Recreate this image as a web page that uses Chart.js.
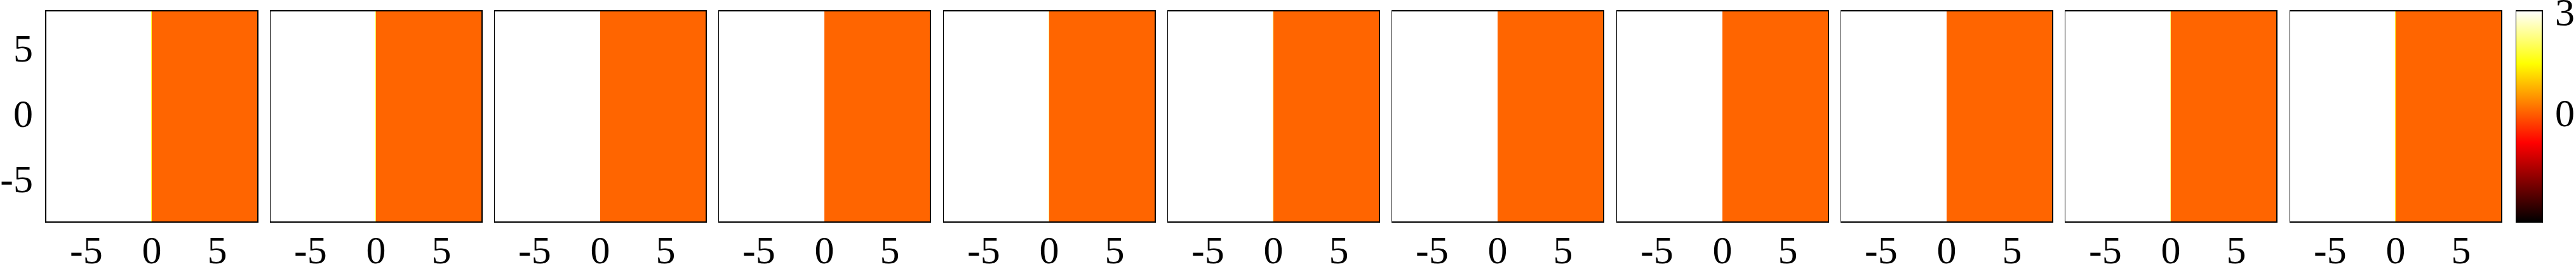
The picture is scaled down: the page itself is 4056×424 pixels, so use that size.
<!DOCTYPE html>
<html>
<head>
<meta charset="utf-8">
<script src="https://cdn.jsdelivr.net/npm/chart.js@4.4.0/dist/chart.umd.min.js"></script>
<style>
html, body { margin: 0; padding: 0; background: #fff; width: 4056px; height: 424px; overflow: hidden; }
canvas { position: absolute; top: 0; }
</style>
</head>
<body>
<script>
// grid of each panel: x cell edges, y cell edges
const xEdges = [-8.1, -0.06, 0, 8.1];
const yEdges = [-8.1, 8.1];
// cell values per panel (left half, thin boundary, right half)
const leftValues  = [3.13, 3.13, 3.13, 3.13, 3.13, 3.13, 3.13, 3.13, 3.13, 3.13, 3.13];
const edgeValues  = [1.9, 1.9, 3.13, 3.13, 2.4, 2.4, 3.13, 3.13, 3.13, 2.4, 1.9];
const rightValues = [0.14, 0.14, 0.14, 0.14, 0.14, 0.14, 0.14, 0.14, 0.14, 0.14, 0.14];
const xTicks = [-5, 0, 5];
const yTicks = [-5, 0, 5];
const cbarMin = -3.15;
const cbarMax = 3.13;
const cbarTicks = [0, 3];

const FONT = { family: "'Liberation Serif', 'Times New Roman', serif", size: 62 };
const EXTRA = 40; // canvas starts above the window so the top label is not cut
const TOP = 17 + EXTRA, BOTTOM_AXIS = 74, PANEL_W = 334, Y_AXIS_W = 71;

// MATLAB-like "hot" colour map
function hot(v) {
    const t = Math.min(1, Math.max(0, (v - cbarMin) / (cbarMax - cbarMin)));
    const r = Math.min(1, t / 0.375);
    const g = Math.min(1, Math.max(0, (t - 0.375) / 0.375));
    const b = Math.min(1, Math.max(0, (t - 0.75) / 0.25));
    return `rgb(${Math.round(r * 255)},${Math.round(g * 255)},${Math.round(b * 255)})`;
}

// black box around the plot area
const frame = {
    id: 'frame',
    afterDatasetsDraw(chart) {
        const a = chart.chartArea, ctx = chart.ctx;
        ctx.save();
        ctx.strokeStyle = '#000';
        ctx.lineWidth = 2;
        ctx.strokeRect(a.left, a.top, a.right - a.left, a.bottom - a.top);
        ctx.restore();
    }
};

function cellDataset(x0, x1, y0, y1, v) {
    return {
        data: [{x: x0, y: y0}, {x: x0, y: y1}, {x: x1, y: y1}, {x: x1, y: y0}, {x: x0, y: y0}],
        showLine: true,
        fill: 'shape',
        backgroundColor: hot(v),
        borderWidth: 0,
        pointRadius: 0
    };
}

function makeCanvas(left, width) {
    const canvas = document.createElement('canvas');
    canvas.width = width;
    canvas.height = 424 + EXTRA;
    canvas.style.left = left + 'px';
    canvas.style.top = (-EXTRA) + 'px';
    document.body.appendChild(canvas);
    return canvas;
}

function makePanel(i) {
    const withY = i === 0;
    const yw = withY ? Y_AXIS_W : 0;
    const panelLeft = Math.round(71.5 + i * 353.3);
    const canvas = makeCanvas(panelLeft - yw, PANEL_W + yw + 2);

    const vals = [leftValues[i], edgeValues[i], rightValues[i]];
    const datasets = [];
    for (let c = 0; c < vals.length; c++) {
        datasets.push(cellDataset(xEdges[c], xEdges[c + 1], yEdges[0], yEdges[1], vals[c]));
    }

    new Chart(canvas.getContext('2d'), {
        type: 'scatter',
        data: { datasets },
        options: {
            responsive: false,
            animation: false,
            events: [],
            layout: { padding: { top: TOP, right: 2, left: 0, bottom: 0 } },
            plugins: { legend: { display: false }, tooltip: { enabled: false } },
            scales: {
                x: {
                    type: 'linear', min: xEdges[0], max: xEdges[xEdges.length - 1],
                    grid: { display: false, drawTicks: false },
                    border: { display: false },
                    ticks: { font: FONT, color: '#000', padding: 12, callback: v => String(v) },
                    afterBuildTicks: s => { s.ticks = xTicks.map(v => ({ value: v })); },
                    afterFit: s => { s.height = BOTTOM_AXIS; s.paddingLeft = 0; s.paddingRight = 0; }
                },
                y: {
                    type: 'linear', min: yEdges[0], max: yEdges[1],
                    display: withY,
                    grid: { display: false, drawTicks: false },
                    border: { display: false },
                    ticks: { font: FONT, color: '#000', padding: 20, callback: v => String(v) },
                    afterBuildTicks: s => { s.ticks = yTicks.map(v => ({ value: v })); },
                    afterFit: s => { s.width = yw; s.paddingTop = 0; s.paddingBottom = 0; }
                }
            }
        },
        plugins: [frame]
    });
}

function makeColorbar() {
    const canvas = makeCanvas(3961, 95);

    new Chart(canvas.getContext('2d'), {
        type: 'bar',
        data: {
            labels: ['c'],
            datasets: [{
                data: [[cbarMin, cbarMax]],
                barPercentage: 1,
                categoryPercentage: 1,
                borderWidth: 0,
                backgroundColor: ctx => {
                    const a = ctx.chart.chartArea;
                    if (!a) return '#000';
                    const g = ctx.chart.ctx.createLinearGradient(0, a.bottom, 0, a.top);
                    for (let k = 0; k <= 40; k++) {
                        g.addColorStop(k / 40, hot(cbarMin + (cbarMax - cbarMin) * k / 40));
                    }
                    return g;
                }
            }]
        },
        options: {
            responsive: false,
            animation: false,
            events: [],
            layout: { padding: { top: TOP, bottom: BOTTOM_AXIS, left: 0, right: 0 } },
            plugins: { legend: { display: false }, tooltip: { enabled: false } },
            scales: {
                x: { display: false },
                y: {
                    position: 'right',
                    min: cbarMin, max: cbarMax,
                    grid: { display: false, drawTicks: false },
                    border: { display: false },
                    ticks: { font: FONT, color: '#000', padding: 20, callback: v => String(v) },
                    afterBuildTicks: s => { s.ticks = cbarTicks.map(v => ({ value: v })); },
                    afterFit: s => { s.width = 53; s.paddingTop = 0; s.paddingBottom = 0; }
                }
            }
        },
        plugins: [frame]
    });
}

Chart.defaults.font.family = FONT.family;
for (let i = 0; i < leftValues.length; i++) makePanel(i);
makeColorbar();
</script>
</body>
</html>
